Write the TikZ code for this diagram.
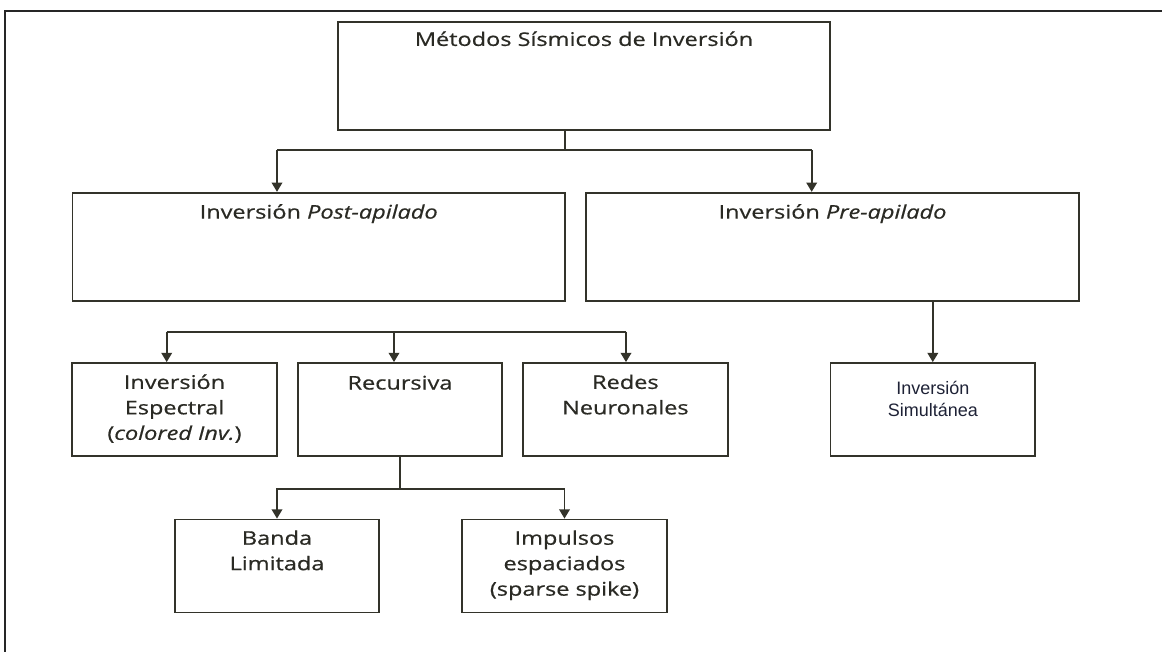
\documentclass[tikz,border=0pt]{standalone}
\usepackage{fontspec}
\setmainfont[FakeStretch=1.25,FakeBold=0.6]{Open Sans}
\newfontfamily\arialfont{Liberation Sans}
\usetikzlibrary{arrows.meta,positioning}
\definecolor{boxline}{HTML}{33332A}
\definecolor{boxtext}{HTML}{2A2A24}
\definecolor{simtext}{HTML}{1E2236}

\begin{document}
\begin{tikzpicture}[x=0.75pt,y=-0.75pt,
  blk/.style={draw=boxline,line width=1.3pt,rectangle,inner sep=0pt,minimum width=153.4pt,minimum height=69.8pt},
  wide/.style={blk,minimum width=369.5pt,minimum height=81pt},
  lbl/.style={inner sep=0pt,align=center,text=boxtext,font=\fontsize{14.1}{19.1}\selectfont},
  ln/.style={draw=boxline,line width=1.3pt},
  ar/.style={ln,-{Triangle[width=8pt,length=7pt]}}]
\useasboundingbox (0,0) rectangle (1162,651);
% \draw[help lines,step=50] (0,0) grid (1162,651);
\draw[line width=1.5pt,black!85] (1170,10.5) -- (5,10.5) -- (5,660);
%
\node (m0) [wide] at (584,76) {};
{\node (m1) [wide] at (318.7,246.7) {};
\node (m2) [wide] at (832.5,246.7) {};}
{\node (m1a) [blk] at (174.5,409.5) {};
\node (m1b) [blk] at (400,409.5) {};
\node (m1c) [blk] at (625.4,409.5) {};
\node (m2a) [blk] at (932.8,409.5) {};}
{\node (m1b1) [blk] at (277,566) {};
\node (m1b2) [blk] at (564.5,566) {};}
%
\node (t0) [lbl,below=5pt of m0.north] {\strut Métodos Sísmicos de Inversión};
\node (t1) [lbl,below=6.5pt of m1.north] {\strut Inversión \textit{Post-apilado}};
\node (t2) [lbl,below=6.5pt of m2.north] {\strut Inversión \textit{Pre-apilado}};
\node (t1a) [lbl,below=6.5pt of m1a.north] {\strut Inversión\\Espectral\\(\textit{colored Inv.})};
\node (t1b) [lbl,below=7pt of m1b.north] {\strut Recursiva};
\node (t1c) [lbl,below=6.5pt of m1c.north] {\strut Redes\\Neuronales};
\node (t2a) [lbl,below=13pt of m2a.north,text=simtext,font=\arialfont\fontsize{13.5}{16.3}\selectfont] {\strut Inversión\\Simultánea};
\node (t1b1) [lbl,below=6pt of m1b1.north] {\strut Banda\\Limitada};
\node (t1b2) [lbl,below=6pt of m1b2.north] {\strut Impulsos\\espaciados\\(sparse spike)};
%
\coordinate (j0) at (565,150);
\coordinate (j1) at (277,150);
\coordinate (j2) at (811.7,150);
{\draw[ln] (m0.south -| j0) -- (j0);
\draw[ln] (j1) -- (j2);
\draw[ar] (j1) -- (j1 |- m1.north);
\draw[ar] (j2) -- (j2 |- m2.north);}
\coordinate (k1) at (166.7,331.7);
\coordinate (k2) at (394,331.7);
\coordinate (k3) at (626,331.7);
{\draw[ln] (k1) -- (k3);
\draw[ar] (k1) -- (k1 |- m1a.north);
\draw[ar] (k2) -- (k2 |- m1b.north);
\draw[ar] (k3) -- (k3 |- m1c.north);}
{\draw[ar] (m2.south -| m2a.north) -- (m2a.north);}
{\draw[ln] (m1b.south) -- ++(0,32.3) coordinate (k4);
\draw[ar] (k4) -| (m1b1.north);
\draw[ar] (k4) -| (m1b2.north);}
\end{tikzpicture}
\end{document}
